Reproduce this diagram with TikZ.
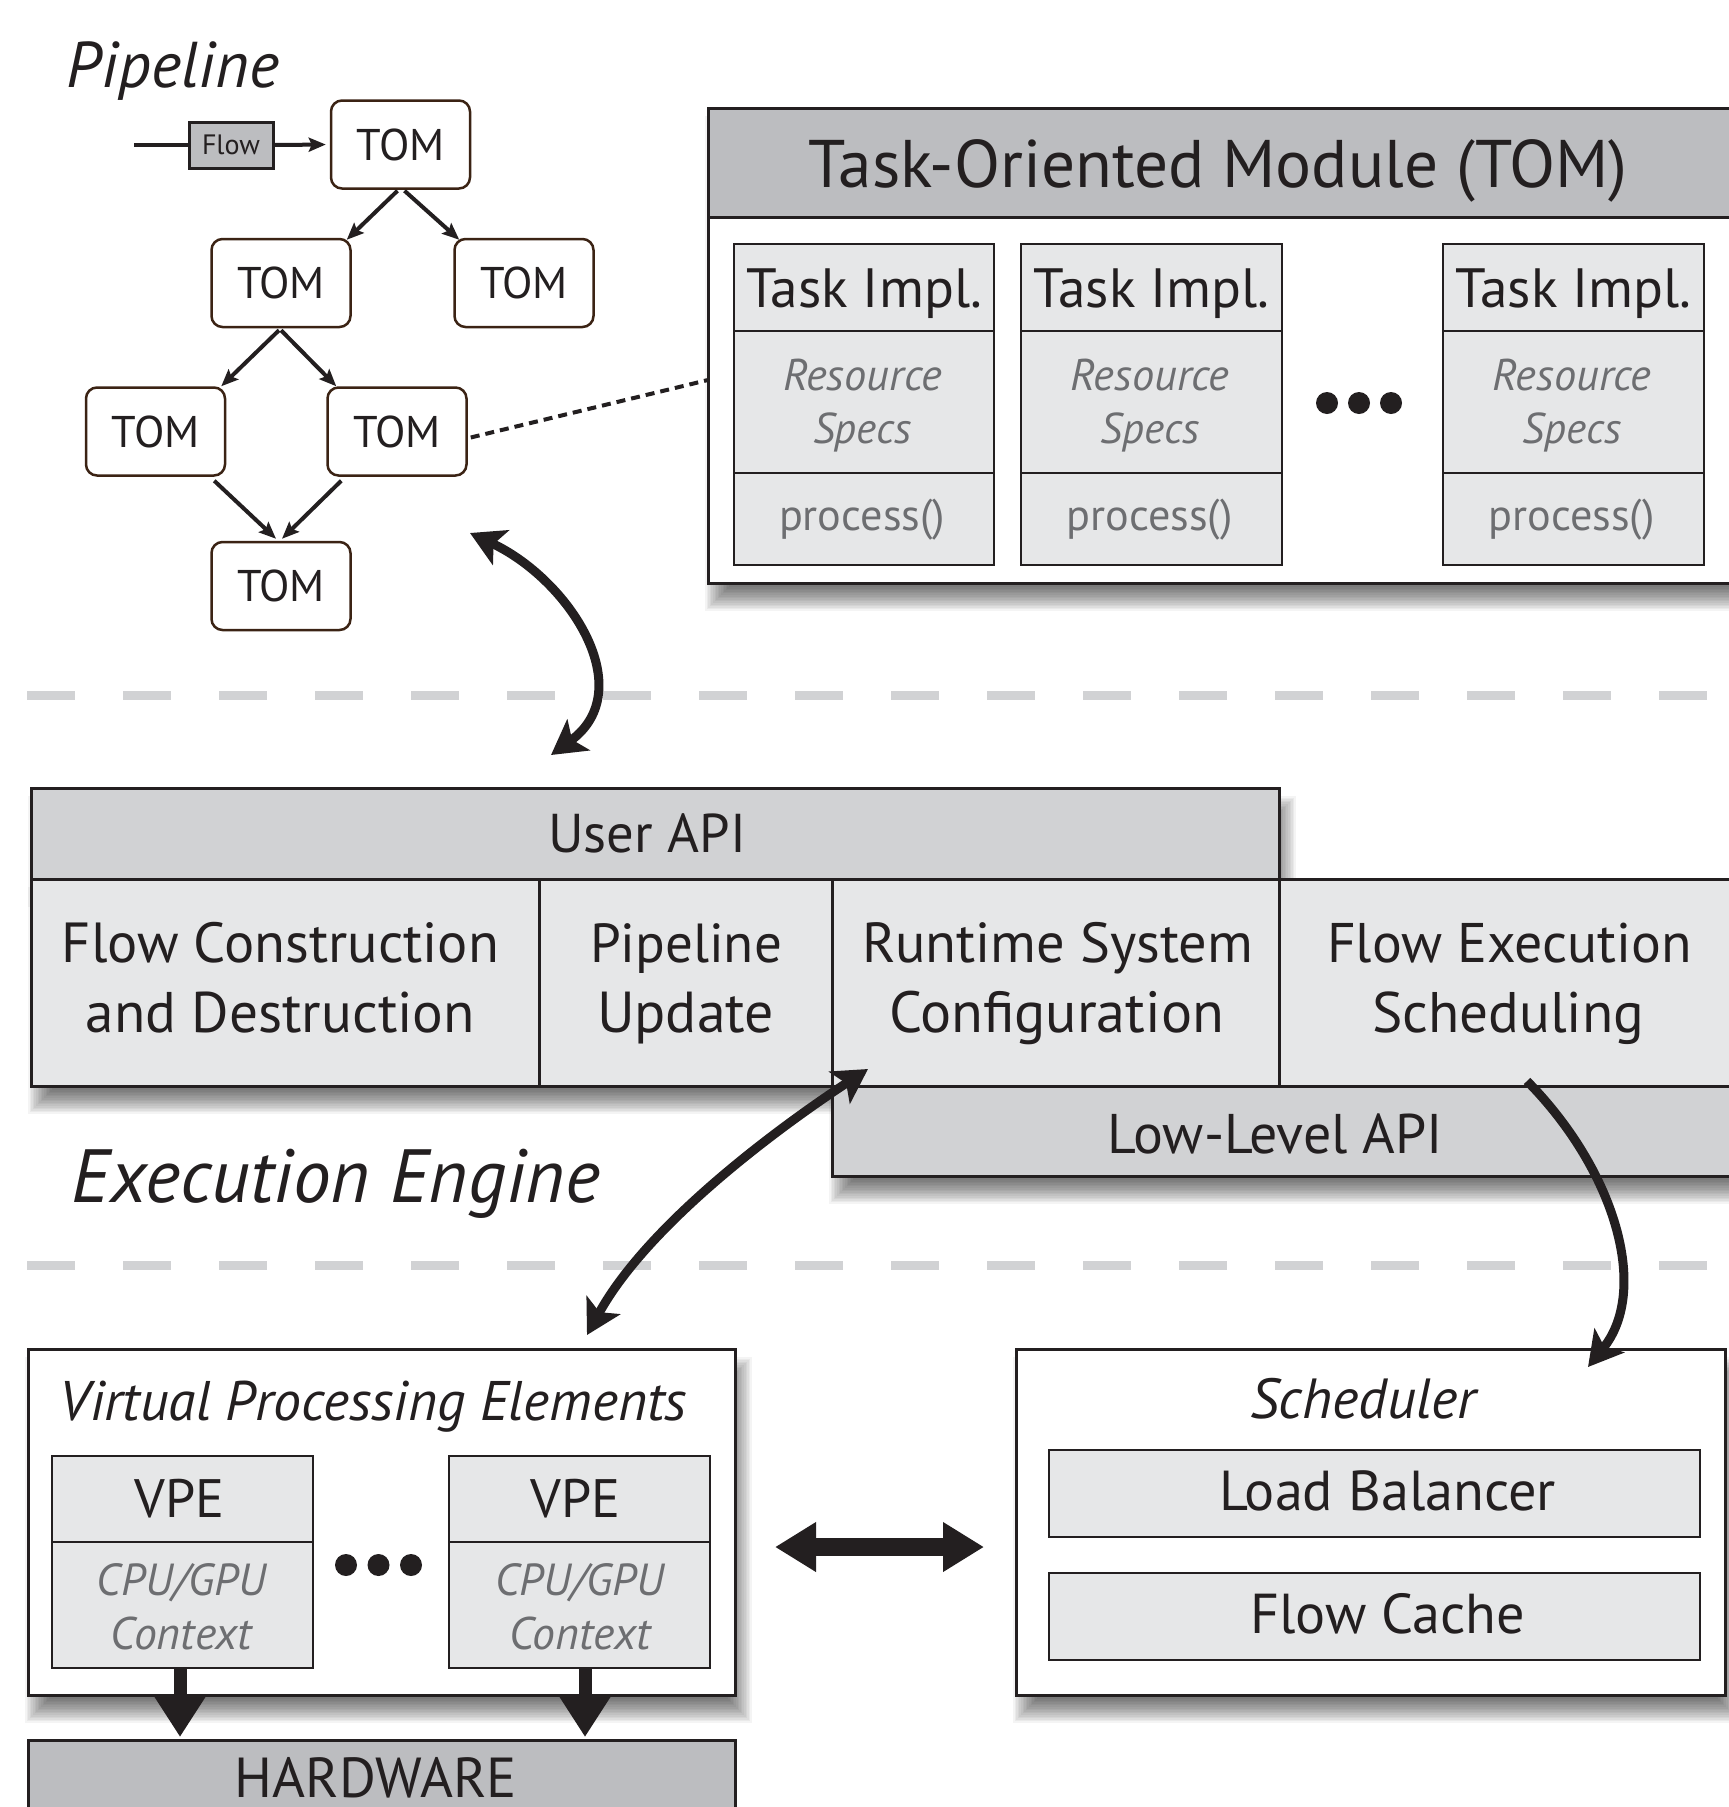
\documentclass[tikz,border=0pt]{standalone}
\usepackage{graphicx}
\usepackage{fontspec}
\setmainfont{PT Sans}
\usetikzlibrary{arrows.meta,calc}
\definecolor{gdark}{HTML}{BCBDC0}
\definecolor{gmid}{HTML}{D1D2D4}
\definecolor{glight}{HTML}{E6E7E8}
\definecolor{txtc}{HTML}{231F20}
\definecolor{tgray}{HTML}{6D6E71}
\definecolor{tombrd}{HTML}{3B2314}
\definecolor{lnc}{HTML}{231F20}
\newcommand\tw[2]{\resizebox{#1bp}{!}{\fontsize{50bp}{60bp}\selectfont #2}}
\newcommand\twi[2]{\resizebox{#1bp}{!}{\fontsize{50bp}{60bp}\selectfont\itshape #2}}
\newcommand\bx[6]{\pgfmathsetmacro\bxw{#4-#2}\pgfmathsetmacro\bxh{#5-#3}%
  \node[#6,anchor=north west,inner sep=0pt,outer sep=0pt,minimum width=\bxw bp,minimum height=\bxh bp] (#1) at (#2,#3) {};}
\newcommand\boxshadow[4]{\foreach \k in {0,...,15}{\fill[black,opacity=0.045] ({#1+7-(\k*1.6-14)},{#2+18-(\k*1.6-14)}) rectangle ({#3+7+(\k*1.6-14)},{#4+18+(\k*1.6-14)});}}
\tikzset{
  bighead/.tip={Stealth[length=34bp,width=38bp,inset=8bp]},
  smallhead/.tip={Stealth[length=17bp,width=14bp,inset=3bp]},
  hwhead/.tip={Triangle[length=40bp,width=48bp]},
  dblhead/.tip={Triangle[length=41bp,width=47bp]},
}
\begin{document}
\begin{tikzpicture}[x=1bp,y=-1bp,
  lbl/.style={inner sep=0pt,outer sep=0pt,anchor=base,text=txtc},
  glbl/.style={lbl,text=tgray},
  tomnode/.style={draw=tombrd,line width=2.5bp,rounded corners=11bp,fill=white,minimum width=139bp,minimum height=88bp,inner sep=0pt,text=txtc},
  frame/.style={draw=lnc,line width=3bp},
  cell/.style={draw=lnc,line width=2.5bp},
  sepline/.style={gmid,line width=9bp,dash pattern=on 48bp off 48bp},
  garr/.style={lnc,line width=4bp,-smallhead},
  bigarr/.style={lnc,line width=9bp},
]
\useasboundingbox (0,0) rectangle (1729,1807);
\clip (0,0) rectangle (1729,1807);
\fill[white] (0,0) rectangle (1729,1807);

% ---------- separators ----------
\draw[sepline] (27,695) -- (1710,695);
\draw[sepline] (27,1265) -- (1710,1265);

% ---------- pipeline ----------
\node[lbl] (pipetitle) at (173,87) {\twi{212}{Pipeline}};
\node[tomnode] (tom1) at (400.5,144.5) {\tw{88}{TOM}};
\node[tomnode] (tom2) at (281,283) {\tw{88}{TOM}};
\node[tomnode] (tom3) at (524,283) {\tw{88}{TOM}};
\node[tomnode] (tom4) at (155.5,431.5) {\tw{88}{TOM}};
\node[tomnode] (tom5) at (397,431.5) {\tw{88}{TOM}};
\node[tomnode] (tom6) at (281,586) {\tw{88}{TOM}};
\node[draw=lnc,line width=3bp,fill=gdark,minimum width=84bp,minimum height=46bp,inner sep=0pt,text=txtc] (flow) at (231,145) {\tw{58}{Flow}};
\coordinate (flowin) at (134,145);
\draw[lnc,line width=4bp] (flowin) -- (flow.west);
\draw[garr,shorten >=4bp] (flow.east) -- (tom1.west);
\draw[garr] ($(tom1.south)+(-3,1)$) -- ($(tom2.north east)+(-5,2)$);
\draw[garr] ($(tom1.south)+(4,1)$) -- ($(tom3.north west)+(6,2)$);
\draw[garr] ($(tom2.south)+(-2,2)$) -- ($(tom4.north east)+(-5,0)$);
\draw[garr] ($(tom2.south)+(0,2)$) -- ($(tom5.north west)+(10,0)$);
\draw[garr] ($(tom4.south east)+(-12,4)$) -- ($(tom6.north)+(-5,-2)$);
\draw[garr] ($(tom5.south west)+(15,4)$) -- ($(tom6.north)+(1,-2)$);

% ---------- TOM module ----------
\boxshadow{708}{108}{1760}{583}
\bx{tombox}{708}{108}{1760}{583}{frame,fill=white}
\bx{tomhead}{708}{108}{1760}{217}{frame,fill=gdark}
\node[lbl] (tomtitle) at (1218,187) {\tw{819}{Task-Oriented Module (TOM)}};
\foreach \n/\a/\b in {ti1/734/994,ti2/1021/1282,ti3/1443/1704}{
  \bx{\n}{\a}{244}{\b}{565}{cell,fill=glight}
  \draw[cell] (\a,331) -- (\b,331);
  \draw[cell] (\a,473) -- (\b,473);
  \pgfmathsetmacro\cx{(\a+\b)/2}
  \node[lbl] (\n-t) at (\cx,307) {\tw{236}{Task Impl.}};
  \node[glbl] (\n-r) at (\cx-1.5,390) {\twi{159}{Resource}};
  \node[glbl] (\n-s) at (\cx-1.5,443) {\twi{99}{Specs}};
  \node[glbl] (\n-p) at (\cx-2,530) {\tw{166}{process()}};
}
\foreach \xx in {1327,1359,1391}{\fill[lnc] (\xx,403) circle[radius=11];}
\coordinate (dotend) at (708,380);
\draw[lnc,line width=4bp,dash pattern=on 9bp off 6bp] ($(tom5.east)+(3,6)$) -- (dotend);

% ---------- User API ----------
\boxshadow{31}{788}{1279}{879}
\boxshadow{31}{879}{1760}{1086}
\boxshadow{832}{1086}{1760}{1176}
\bx{lowapi}{832}{1086}{1760}{1176}{frame,fill=gmid}
\bx{uapi}{31}{788}{1279}{879}{frame,fill=gmid}
\bx{cflow}{31}{879}{539}{1086}{frame,fill=glight}
\bx{cpipe}{539}{879}{832}{1086}{frame,fill=glight}
\bx{crun}{832}{879}{1279}{1086}{frame,fill=glight}
\bx{cexec}{1279}{879}{1760}{1086}{frame,fill=glight}
\node[lbl] (uapit) at (647,852) {\tw{198}{User API}};
\node[lbl] (cflow1) at (280.5,962) {\tw{437}{Flow Construction}};
\node[lbl] (cflow2) at (280.5,1032) {\tw{389}{and Destruction}};
\node[lbl] (cpipe1) at (686,962) {\tw{192}{Pipeline}};
\node[lbl] (cpipe2) at (685.5,1032) {\tw{177}{Update}};
\node[lbl] (crun1) at (1057.5,962) {\tw{391}{Runtime System}};
\node[lbl] (crun2) at (1056.5,1032) {\tw{335}{Configuration}};
\node[lbl] (cexec1) at (1509.5,962) {\tw{365}{Flow Execution}};
\node[lbl] (cexec2) at (1508,1032) {\tw{272}{Scheduling}};
\node[lbl] (lowapit) at (1275.5,1153) {\tw{335}{Low-Level API}};
\node[lbl] (engine) at (336,1202) {\twi{528}{Execution Engine}};

% ---------- VPE ----------
\boxshadow{28}{1349}{735}{1695}
\bx{vpebox}{28}{1349}{735}{1695}{frame,fill=white}
\node[lbl] (vpetitle) at (373.5,1420) {\twi{627}{Virtual Processing Elements}};
\bx{vpe1}{52}{1456}{313}{1668}{cell,fill=glight}
\draw[cell] (52,1542) -- (313,1542);
\bx{vpe2}{449}{1456}{710}{1668}{cell,fill=glight}
\draw[cell] (449,1542) -- (710,1542);
\node[lbl] (vpe1t) at (179.5,1517) {\tw{90}{VPE}};
\node[lbl] (vpe2t) at (575.5,1517) {\tw{90}{VPE}};
\node[glbl] (vpe1c) at (181.5,1595) {\twi{169}{CPU/GPU}};
\node[glbl] (vpe1x) at (181.5,1649) {\twi{141}{Context}};
\node[glbl] (vpe2c) at (579.5,1595) {\twi{169}{CPU/GPU}};
\node[glbl] (vpe2x) at (580,1649) {\twi{141}{Context}};
\foreach \xx in {346,378.5,411}{\fill[lnc] (\xx,1565) circle[radius=11];}
\bx{hw}{28}{1740}{735}{1840}{frame,fill=gdark}
\node[lbl] (hwt) at (376,1797) {\tw{282}{HARDWARE}};
\draw[lnc,line width=13bp,-hwhead] ($(vpe1.south)+(-2.5,0)$) -- ($(vpe1.south |- hw.north)+(-2.5,-3)$);
\draw[lnc,line width=13bp,-hwhead] ($(vpe2.south)+(5.5,0)$) -- ($(vpe2.south |- hw.north)+(5.5,-3)$);

% ---------- Scheduler ----------
\boxshadow{1016}{1349}{1725}{1695}
\bx{sched}{1016}{1349}{1725}{1695}{frame,fill=white}
\node[lbl] (schedt) at (1363,1418) {\twi{226}{Scheduler}};
\bx{lb}{1049}{1450}{1700}{1537}{cell,fill=glight}
\bx{fc}{1049}{1573}{1700}{1660}{cell,fill=glight}
\node[lbl] (lbt) at (1387.5,1510) {\tw{337}{Load Balancer}};
\node[lbl] (fct) at (1387.5,1633) {\tw{275}{Flow Cache}};
\draw[lnc,line width=18bp,dblhead-dblhead] ($(vpebox.east)+(40,25)$) -- ($(sched.west)+(-32,25)$);

% ---------- curved arrows ----------
\coordinate (c1a) at (470,533);
\coordinate (c1b) at (551,755);
\draw[bigarr,bighead-bighead] (c1a) .. controls (570,580) and (640,690) .. (c1b);
\coordinate (c2a) at (587,1335);
\coordinate (c2b) at (868,1069);
\draw[bigarr,bighead-bighead] (c2a) .. controls (650,1220) and (790,1120) .. (c2b);
\coordinate (c3a) at (1527,1081);
\coordinate (c3b) at (1588,1367);
\draw[bigarr,-bighead] (c3a) .. controls (1615,1170) and (1650,1290) .. (c3b);
\end{tikzpicture}
\end{document}
